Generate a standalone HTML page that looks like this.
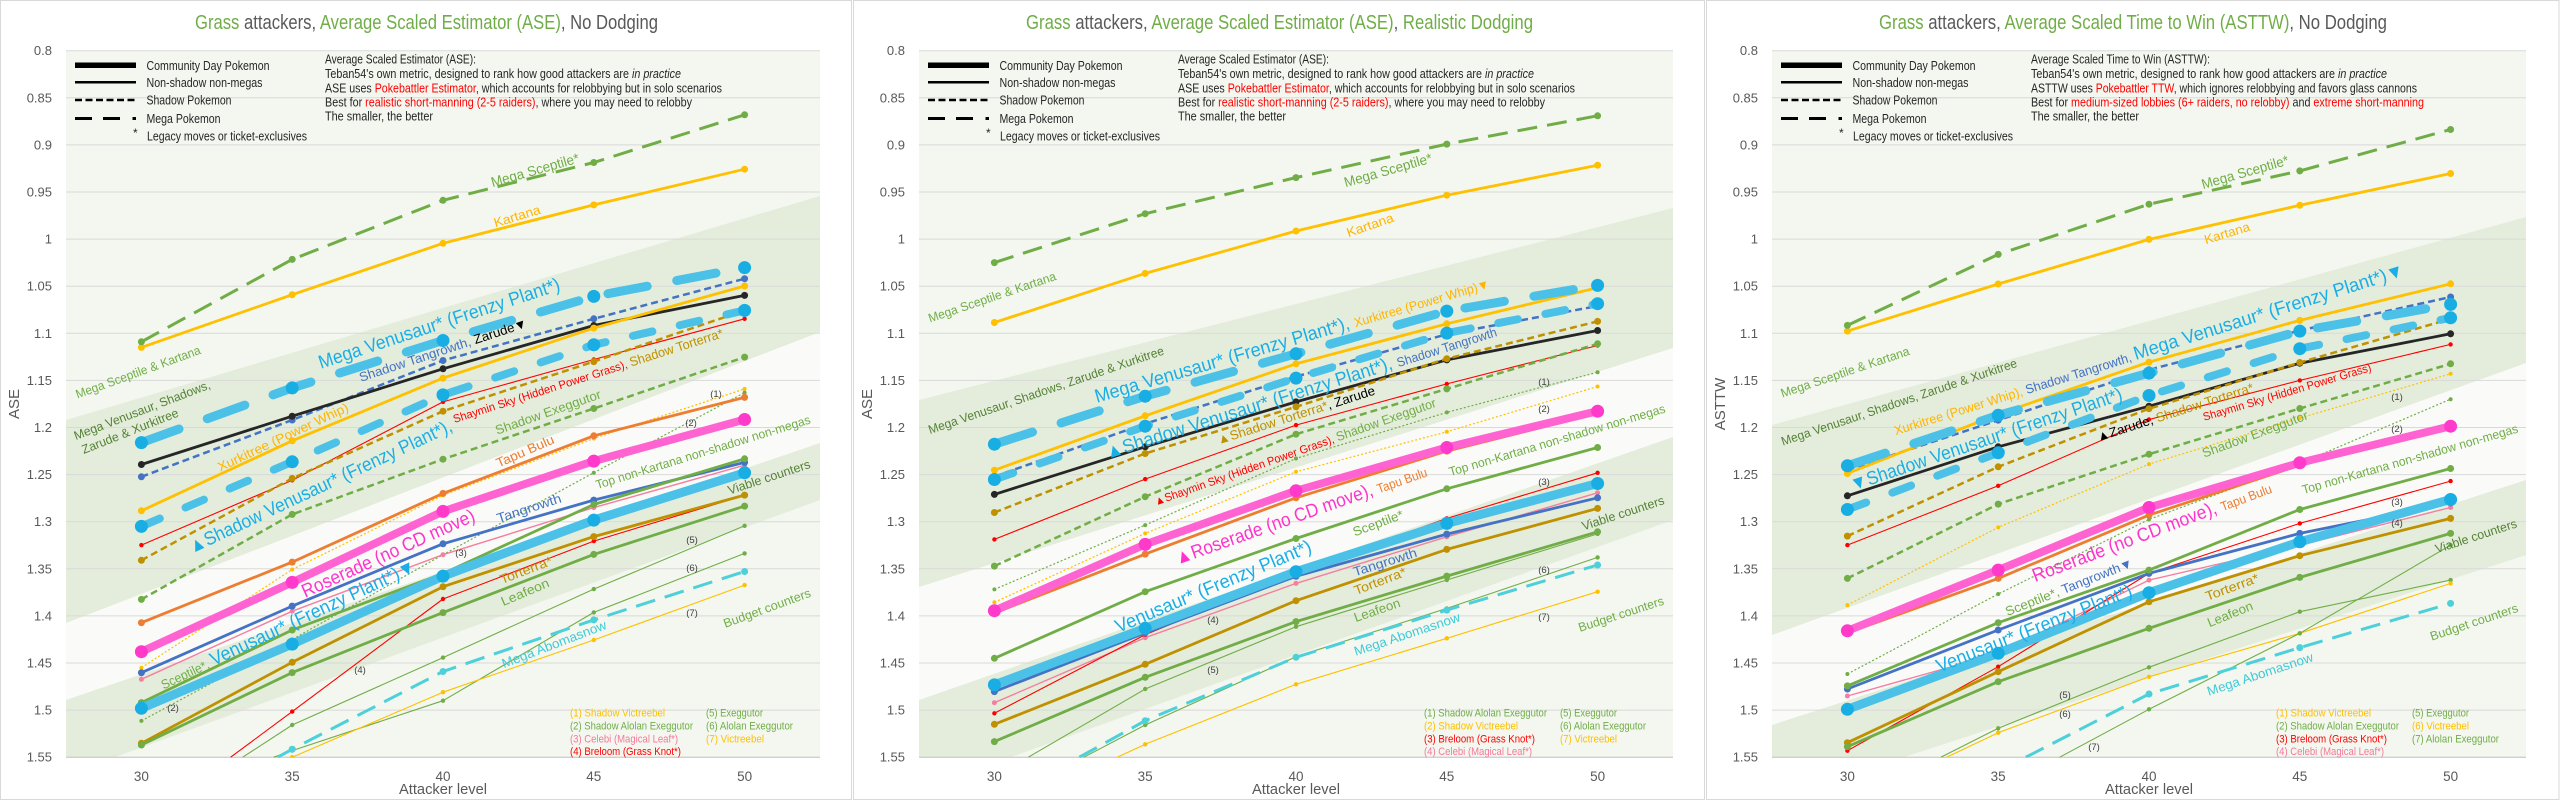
<!DOCTYPE html>
<html><head><meta charset="utf-8">
<style>
html,body{margin:0;padding:0;background:#fff;width:2560px;height:800px;overflow:hidden;}
svg{display:block;font-family:"Liberation Sans",sans-serif;}
.l{text-anchor:middle;}
.tk{font-size:13px;fill:#595959;}
.xt{font-size:13.5px;fill:#595959;text-anchor:middle;}
.nm{font-size:9.5px;fill:#404040;text-anchor:middle;}
.lg{font-size:13px;fill:#262626;}
.bl{font-size:11px;}
</style></head>
<body>
<svg width="2560" height="800" viewBox="0 0 2560 800" xmlns="http://www.w3.org/2000/svg">
<defs>
<clipPath id="pc"><rect x="66" y="50.2" width="754" height="707.6"/></clipPath>
</defs>
<rect width="2560" height="800" fill="#fff"/>

<!-- ================= PANEL 1 ================= -->
<g transform="translate(0,0)">
<rect x="0.5" y="0.5" width="851" height="799" fill="#fff" stroke="#D9D9D9"/>
<rect x="66" y="50.7" width="754" height="706.5" fill="#F3F7EF"/>
<polygon points="66,623 820,332 820,443 66,700" fill="#FAFBF8"/>
<polygon points="66,420 820,196 820,332 66,623" fill="#E4EDDB"/>
<polygon points="66,700 820,443 820,500 114.8,757.2 66,757.2" fill="#E4EDDB"/>
<path d="M66 50.7H820M66 97.8H820M66 144.9H820M66 192H820M66 239.1H820M66 286.2H820M66 333.3H820M66 380.4H820M66 427.5H820M66 474.6H820M66 521.7H820M66 568.8H820M66 615.9H820M66 663H820M66 710.1H820" stroke="#D9D9D9" stroke-width="1" fill="none"/>
<path d="M66 757.2H820" stroke="#BFBFBF" stroke-width="1"/>
<g class="tk" text-anchor="end">
<text x="52" y="55.2">0.8</text><text x="52" y="102.3">0.85</text><text x="52" y="149.4">0.9</text><text x="52" y="196.5">0.95</text><text x="52" y="243.6">1</text><text x="52" y="290.7">1.05</text><text x="52" y="337.8">1.1</text><text x="52" y="384.9">1.15</text><text x="52" y="432">1.2</text><text x="52" y="479.1">1.25</text><text x="52" y="526.2">1.3</text><text x="52" y="573.3">1.35</text><text x="52" y="620.4">1.4</text><text x="52" y="667.5">1.45</text><text x="52" y="714.6">1.5</text><text x="52" y="761.7">1.55</text>
</g>
<g class="xt"><text x="141.4" y="781">30</text><text x="292.2" y="781">35</text><text x="443" y="781">40</text><text x="593.8" y="781">45</text><text x="744.6" y="781">50</text></g>
<text x="443" y="794" text-anchor="middle" font-size="15" fill="#595959" textLength="88" lengthAdjust="spacingAndGlyphs">Attacker level</text>
<text transform="translate(19,404) rotate(-90)" text-anchor="middle" font-size="15" fill="#595959">ASE</text>
<text x="426.5" y="29" text-anchor="middle" font-size="20" textLength="463" lengthAdjust="spacingAndGlyphs"><tspan fill="#70AD47">Grass</tspan><tspan fill="#595959"> attackers, </tspan><tspan fill="#70AD47">Average Scaled Estimator (ASE)</tspan><tspan fill="#595959">, No Dodging</tspan></text>
<g class="lg">
<line x1="75" y1="65.3" x2="136" y2="65.3" stroke="#000" stroke-width="5.5"/>
<text x="146.5" y="70" textLength="123" lengthAdjust="spacingAndGlyphs">Community Day Pokemon</text>
<line x1="75" y1="82.3" x2="136" y2="82.3" stroke="#000" stroke-width="2.5"/>
<text x="146.5" y="87" textLength="116" lengthAdjust="spacingAndGlyphs">Non-shadow non-megas</text>
<line x1="75" y1="100" x2="136" y2="100" stroke="#000" stroke-width="2.5" stroke-dasharray="7 3.5"/>
<text x="146.5" y="104.5" textLength="85" lengthAdjust="spacingAndGlyphs">Shadow Pokemon</text>
<path d="M75 118.5H92M103 118.5H120M132.5 118.5H136" stroke="#000" stroke-width="3"/>
<text x="146.5" y="123" textLength="74" lengthAdjust="spacingAndGlyphs">Mega Pokemon</text>
<text x="133" y="137" font-size="12">*</text>
<text x="147" y="140.5" textLength="160" lengthAdjust="spacingAndGlyphs">Legacy moves or ticket-exclusives</text>
</g>
<g font-size="12.5" fill="#262626">
<text x="325" y="63.5" textLength="151" lengthAdjust="spacingAndGlyphs">Average Scaled Estimator (ASE):</text>
<text x="325" y="78" textLength="356" lengthAdjust="spacingAndGlyphs">Teban54's own metric, designed to rank how good attackers are <tspan font-style="italic">in practice</tspan></text>
<text x="325" y="92.3" textLength="397" lengthAdjust="spacingAndGlyphs">ASE uses <tspan fill="#FF0000">Pokebattler Estimator</tspan>, which accounts for relobbying but in solo scenarios</text>
<text x="325" y="106.3" textLength="367" lengthAdjust="spacingAndGlyphs">Best for <tspan fill="#FF0000">realistic short-manning (2-5 raiders)</tspan>, where you may need to relobby</text>
<text x="325" y="120.5" textLength="108" lengthAdjust="spacingAndGlyphs">The smaller, the better</text>
</g>
<g id="s1" clip-path="url(#pc)"></g>
<g class="bl">
<text x="570" y="716.7" fill="#FFC000" textLength="95" lengthAdjust="spacingAndGlyphs">(1) Shadow Victreebel</text>
<text x="570" y="729.7" fill="#70AD47" textLength="123" lengthAdjust="spacingAndGlyphs">(2) Shadow Alolan Exeggutor</text>
<text x="570" y="742.3" fill="#F4799B" textLength="108" lengthAdjust="spacingAndGlyphs">(3) Celebi (Magical Leaf*)</text>
<text x="570" y="755" fill="#FF0000" textLength="111" lengthAdjust="spacingAndGlyphs">(4) Breloom (Grass Knot*)</text>
<text x="706" y="716.7" fill="#70AD47" textLength="57" lengthAdjust="spacingAndGlyphs">(5) Exeggutor</text>
<text x="706" y="729.7" fill="#70AD47" textLength="87" lengthAdjust="spacingAndGlyphs">(6) Alolan Exeggutor</text>
<text x="706" y="742.3" fill="#FFC000" textLength="58" lengthAdjust="spacingAndGlyphs">(7) Victreebel</text>
</g>
<g class="l">
<text transform="translate(535,170) rotate(-15.9)" dy="0.35em" font-size="14" fill="#70AD47" textLength="91" lengthAdjust="spacingAndGlyphs">Mega Sceptile*</text>
<text transform="translate(517,216) rotate(-17)" dy="0.35em" font-size="13" fill="#FFB400" textLength="48" lengthAdjust="spacingAndGlyphs">Kartana</text>
<text transform="translate(138,372) rotate(-20)" dy="0.35em" font-size="12.5" fill="#70AD47" textLength="132" lengthAdjust="spacingAndGlyphs">Mega Sceptile &amp; Kartana</text>
<text transform="translate(142,410) rotate(-21)" dy="0.35em" font-size="12.5" fill="#548235" textLength="145" lengthAdjust="spacingAndGlyphs">Mega Venusaur, Shadows,</text>
<text transform="translate(130,431) rotate(-21.6)" dy="0.35em" font-size="12.5" fill="#548235" textLength="103" lengthAdjust="spacingAndGlyphs">Zarude &amp; Xurkitree</text>
<text transform="translate(439,323) rotate(-18.2)" dy="0.35em" font-size="19" fill="#1AAEE6" textLength="253" lengthAdjust="spacingAndGlyphs">Mega Venusaur* (Frenzy Plant*)</text>
<text transform="translate(443,350) rotate(-18.2)" dy="0.35em" font-size="13" textLength="176" lengthAdjust="spacingAndGlyphs"><tspan fill="#4472C4">Shadow Tangrowth, </tspan><tspan fill="#000">Zarude▼</tspan></text>
<text transform="translate(283,437) rotate(-25.3)" dy="0.35em" font-size="13" fill="#FFB400" textLength="143" lengthAdjust="spacingAndGlyphs">Xurkitree (Power Whip)</text>
<text transform="translate(320,486) rotate(-25.2)" dy="0.35em" font-size="19" fill="#1AAEE6" textLength="289" lengthAdjust="spacingAndGlyphs">▲Shadow Venusaur* (Frenzy Plant*),</text>
<text transform="translate(588,376) rotate(-17.7)" dy="0.35em" font-size="12" textLength="283" lengthAdjust="spacingAndGlyphs"><tspan fill="#FF0000" font-size="11.5">Shaymin Sky (Hidden Power Grass), </tspan><tspan fill="#BF9000" font-size="13">Shadow Torterra*</tspan></text>
<text transform="translate(548,412) rotate(-19.4)" dy="0.35em" font-size="13" fill="#70AD47" textLength="111" lengthAdjust="spacingAndGlyphs">Shadow Exeggutor</text>
<text transform="translate(525,451) rotate(-23.7)" dy="0.35em" font-size="13" fill="#ED7D31" textLength="62" lengthAdjust="spacingAndGlyphs">Tapu Bulu</text>
<text transform="translate(703,452) rotate(-17.1)" dy="0.35em" font-size="12.5" fill="#70AD47" textLength="224" lengthAdjust="spacingAndGlyphs">Top non-Kartana non-shadow non-megas</text>
<text transform="translate(388,553) rotate(-24.4)" dy="0.35em" font-size="19" fill="#FF33CC" textLength="188" lengthAdjust="spacingAndGlyphs">Roserade (no CD move)</text>
<text transform="translate(529,508) rotate(-18)" dy="0.35em" font-size="13" fill="#4472C4" textLength="67" lengthAdjust="spacingAndGlyphs">Tangrowth</text>
<text transform="translate(769,477) rotate(-18.2)" dy="0.35em" font-size="12.5" fill="#548235" textLength="86" lengthAdjust="spacingAndGlyphs">Viable counters</text>
<text transform="translate(526,570) rotate(-21)" dy="0.35em" font-size="13" fill="#BF9000" textLength="55" lengthAdjust="spacingAndGlyphs">Torterra*</text>
<text transform="translate(525,592) rotate(-23)" dy="0.35em" font-size="13" fill="#70AD47" textLength="51" lengthAdjust="spacingAndGlyphs">Leafeon</text>
<text transform="translate(288,625) rotate(-25.1)" dy="0.35em" font-size="16" textLength="280" lengthAdjust="spacingAndGlyphs"><tspan fill="#70AD47" font-size="13">Sceptile*, </tspan><tspan fill="#1AAEE6" font-size="19">Venusaur* (Frenzy Plant*)▼</tspan></text>
<text transform="translate(554,644) rotate(-21)" dy="0.35em" font-size="13" fill="#3FCAD8" textLength="111" lengthAdjust="spacingAndGlyphs">Mega Abomasnow</text>
<text transform="translate(767,608) rotate(-20)" dy="0.35em" font-size="12.5" fill="#70AD47" textLength="92" lengthAdjust="spacingAndGlyphs">Budget counters</text>
</g>
<g class="nm">
<text x="716" y="397">(1)</text><text x="691" y="426">(2)</text><text x="461" y="556">(3)</text><text x="173" y="711">(2)</text><text x="360" y="673">(4)</text><text x="692" y="543">(5)</text><text x="692" y="571">(6)</text><text x="692" y="616">(7)</text>
</g>
</g>

<!-- ================= PANEL 2 ================= -->
<g transform="translate(853,0)">
<rect x="0.5" y="0.5" width="851" height="799" fill="#fff" stroke="#D9D9D9"/>
<rect x="66" y="50.7" width="754" height="706.5" fill="#F3F7EF"/>
<polygon points="66,587 820,348 820,437 66,700" fill="#FAFBF8"/>
<polygon points="66,400 820,208 820,348 66,587" fill="#E4EDDB"/>
<polygon points="66,700 820,437 820,520 157.6,757.2 66,757.2" fill="#E4EDDB"/>
<path d="M66 50.7H820M66 97.8H820M66 144.9H820M66 192H820M66 239.1H820M66 286.2H820M66 333.3H820M66 380.4H820M66 427.5H820M66 474.6H820M66 521.7H820M66 568.8H820M66 615.9H820M66 663H820M66 710.1H820" stroke="#D9D9D9" stroke-width="1" fill="none"/>
<path d="M66 757.2H820" stroke="#BFBFBF" stroke-width="1"/>
<g class="tk" text-anchor="end">
<text x="52" y="55.2">0.8</text><text x="52" y="102.3">0.85</text><text x="52" y="149.4">0.9</text><text x="52" y="196.5">0.95</text><text x="52" y="243.6">1</text><text x="52" y="290.7">1.05</text><text x="52" y="337.8">1.1</text><text x="52" y="384.9">1.15</text><text x="52" y="432">1.2</text><text x="52" y="479.1">1.25</text><text x="52" y="526.2">1.3</text><text x="52" y="573.3">1.35</text><text x="52" y="620.4">1.4</text><text x="52" y="667.5">1.45</text><text x="52" y="714.6">1.5</text><text x="52" y="761.7">1.55</text>
</g>
<g class="xt"><text x="141.4" y="781">30</text><text x="292.2" y="781">35</text><text x="443" y="781">40</text><text x="593.8" y="781">45</text><text x="744.6" y="781">50</text></g>
<text x="443" y="794" text-anchor="middle" font-size="15" fill="#595959" textLength="88" lengthAdjust="spacingAndGlyphs">Attacker level</text>
<text transform="translate(19,404) rotate(-90)" text-anchor="middle" font-size="15" fill="#595959">ASE</text>
<text x="426.5" y="29" text-anchor="middle" font-size="20" textLength="507" lengthAdjust="spacingAndGlyphs"><tspan fill="#70AD47">Grass</tspan><tspan fill="#595959"> attackers, </tspan><tspan fill="#70AD47">Average Scaled Estimator (ASE)</tspan><tspan fill="#595959">, </tspan><tspan fill="#70AD47">Realistic Dodging</tspan></text>
<g class="lg">
<line x1="75" y1="65.3" x2="136" y2="65.3" stroke="#000" stroke-width="5.5"/>
<text x="146.5" y="70" textLength="123" lengthAdjust="spacingAndGlyphs">Community Day Pokemon</text>
<line x1="75" y1="82.3" x2="136" y2="82.3" stroke="#000" stroke-width="2.5"/>
<text x="146.5" y="87" textLength="116" lengthAdjust="spacingAndGlyphs">Non-shadow non-megas</text>
<line x1="75" y1="100" x2="136" y2="100" stroke="#000" stroke-width="2.5" stroke-dasharray="7 3.5"/>
<text x="146.5" y="104.5" textLength="85" lengthAdjust="spacingAndGlyphs">Shadow Pokemon</text>
<path d="M75 118.5H92M103 118.5H120M132.5 118.5H136" stroke="#000" stroke-width="3"/>
<text x="146.5" y="123" textLength="74" lengthAdjust="spacingAndGlyphs">Mega Pokemon</text>
<text x="133" y="137" font-size="12">*</text>
<text x="147" y="140.5" textLength="160" lengthAdjust="spacingAndGlyphs">Legacy moves or ticket-exclusives</text>
</g>
<g font-size="12.5" fill="#262626">
<text x="325" y="63.5" textLength="151" lengthAdjust="spacingAndGlyphs">Average Scaled Estimator (ASE):</text>
<text x="325" y="78" textLength="356" lengthAdjust="spacingAndGlyphs">Teban54's own metric, designed to rank how good attackers are <tspan font-style="italic">in practice</tspan></text>
<text x="325" y="92.3" textLength="397" lengthAdjust="spacingAndGlyphs">ASE uses <tspan fill="#FF0000">Pokebattler Estimator</tspan>, which accounts for relobbying but in solo scenarios</text>
<text x="325" y="106.3" textLength="367" lengthAdjust="spacingAndGlyphs">Best for <tspan fill="#FF0000">realistic short-manning (2-5 raiders)</tspan>, where you may need to relobby</text>
<text x="325" y="120.5" textLength="108" lengthAdjust="spacingAndGlyphs">The smaller, the better</text>
</g>
<g id="s2" clip-path="url(#pc)"></g>
<g class="bl">
<text x="571" y="716.7" fill="#70AD47" textLength="123" lengthAdjust="spacingAndGlyphs">(1) Shadow Alolan Exeggutor</text>
<text x="571" y="729.7" fill="#FFC000" textLength="94" lengthAdjust="spacingAndGlyphs">(2) Shadow Victreebel</text>
<text x="571" y="742.3" fill="#FF0000" textLength="111" lengthAdjust="spacingAndGlyphs">(3) Breloom (Grass Knot*)</text>
<text x="571" y="755" fill="#F4799B" textLength="108" lengthAdjust="spacingAndGlyphs">(4) Celebi (Magical Leaf*)</text>
<text x="707" y="716.7" fill="#70AD47" textLength="57" lengthAdjust="spacingAndGlyphs">(5) Exeggutor</text>
<text x="707" y="729.7" fill="#70AD47" textLength="86" lengthAdjust="spacingAndGlyphs">(6) Alolan Exeggutor</text>
<text x="707" y="742.3" fill="#FFC000" textLength="57" lengthAdjust="spacingAndGlyphs">(7) Victreebel</text>
</g>
<g class="l">
<text transform="translate(535,170) rotate(-16)" dy="0.35em" font-size="14" fill="#70AD47" textLength="91" lengthAdjust="spacingAndGlyphs">Mega Sceptile*</text>
<text transform="translate(517,225) rotate(-19)" dy="0.35em" font-size="13" fill="#FFB400" textLength="49" lengthAdjust="spacingAndGlyphs">Kartana</text>
<text transform="translate(139,297) rotate(-18.7)" dy="0.35em" font-size="12.5" fill="#70AD47" textLength="134" lengthAdjust="spacingAndGlyphs">Mega Sceptile &amp; Kartana</text>
<text transform="translate(193,390) rotate(-18.8)" dy="0.35em" font-size="12.5" fill="#548235" textLength="248" lengthAdjust="spacingAndGlyphs">Mega Venusaur, Shadows, Zarude &amp; Xurkitree</text>
<text transform="translate(439,340) rotate(-16.3)" dy="0.35em" font-size="16" textLength="410" lengthAdjust="spacingAndGlyphs"><tspan fill="#1AAEE6" font-size="19">Mega Venusaur* (Frenzy Plant*), </tspan><tspan fill="#FFB400" font-size="13">Xurkitree (Power Whip)▼</tspan></text>
<text transform="translate(448,392) rotate(-17.5)" dy="0.35em" font-size="16" textLength="409" lengthAdjust="spacingAndGlyphs"><tspan fill="#1AAEE6" font-size="19">▲Shadow Venusaur* (Frenzy Plant*), </tspan><tspan fill="#4472C4" font-size="13">Shadow Tangrowth</tspan></text>
<text transform="translate(443,415) rotate(-17.7)" dy="0.35em" font-size="13" textLength="165" lengthAdjust="spacingAndGlyphs"><tspan fill="#BF9000">▲Shadow Torterra*</tspan><tspan fill="#000">, Zarude</tspan></text>
<text transform="translate(442,452) rotate(-19.4)" dy="0.35em" font-size="12" textLength="298" lengthAdjust="spacingAndGlyphs"><tspan fill="#FF0000" font-size="11.5">▲Shaymin Sky (Hidden Power Grass), </tspan><tspan fill="#70AD47" font-size="13">Shadow Exeggutor</tspan></text>
<text transform="translate(448,515) rotate(-19.5)" dy="0.35em" font-size="16" textLength="266" lengthAdjust="spacingAndGlyphs"><tspan fill="#FF33CC" font-size="19">▲Roserade (no CD move), </tspan><tspan fill="#ED7D31" font-size="13">Tapu Bulu</tspan></text>
<text transform="translate(704,440) rotate(-16.5)" dy="0.35em" font-size="12.5" fill="#70AD47" textLength="225" lengthAdjust="spacingAndGlyphs">Top non-Kartana non-shadow non-megas</text>
<text transform="translate(525,523) rotate(-20.5)" dy="0.35em" font-size="13" fill="#70AD47" textLength="53" lengthAdjust="spacingAndGlyphs">Sceptile*</text>
<text transform="translate(770,513) rotate(-18)" dy="0.35em" font-size="12.5" fill="#548235" textLength="86" lengthAdjust="spacingAndGlyphs">Viable counters</text>
<text transform="translate(360,586) rotate(-22.8)" dy="0.35em" font-size="19" fill="#1AAEE6" textLength="211" lengthAdjust="spacingAndGlyphs">Venusaur* (Frenzy Plant*)</text>
<text transform="translate(532,562) rotate(-17.6)" dy="0.35em" font-size="13" fill="#4472C4" textLength="66" lengthAdjust="spacingAndGlyphs">Tangrowth</text>
<text transform="translate(527,581) rotate(-21)" dy="0.35em" font-size="13" fill="#BF9000" textLength="55" lengthAdjust="spacingAndGlyphs">Torterra*</text>
<text transform="translate(524,610) rotate(-19)" dy="0.35em" font-size="13" fill="#70AD47" textLength="48" lengthAdjust="spacingAndGlyphs">Leafeon</text>
<text transform="translate(554,634) rotate(-18.4)" dy="0.35em" font-size="13" fill="#3FCAD8" textLength="111" lengthAdjust="spacingAndGlyphs">Mega Abomasnow</text>
<text transform="translate(768,614) rotate(-18)" dy="0.35em" font-size="12.5" fill="#70AD47" textLength="89" lengthAdjust="spacingAndGlyphs">Budget counters</text>
</g>
<g class="nm">
<text x="691" y="385">(1)</text><text x="691" y="412">(2)</text><text x="691" y="485">(3)</text><text x="691" y="573">(6)</text><text x="691" y="620">(7)</text><text x="360" y="623">(4)</text><text x="360" y="673">(5)</text>
</g>
</g>

<!-- ================= PANEL 3 ================= -->
<g transform="translate(1706,0)">
<rect x="0.5" y="0.5" width="852.5" height="799" fill="#fff" stroke="#D9D9D9"/>
<rect x="66" y="50.7" width="754" height="706.5" fill="#F3F7EF"/>
<polygon points="66,635 820,363 820,480 66,725" fill="#FAFBF8"/>
<polygon points="66,425 820,217 820,363 66,635" fill="#E4EDDB"/>
<polygon points="66,725 820,480 820,555 197.7,757.2 66,757.2" fill="#E4EDDB"/>
<path d="M66 50.7H820M66 97.8H820M66 144.9H820M66 192H820M66 239.1H820M66 286.2H820M66 333.3H820M66 380.4H820M66 427.5H820M66 474.6H820M66 521.7H820M66 568.8H820M66 615.9H820M66 663H820M66 710.1H820" stroke="#D9D9D9" stroke-width="1" fill="none"/>
<path d="M66 757.2H820" stroke="#BFBFBF" stroke-width="1"/>
<g class="tk" text-anchor="end">
<text x="52" y="55.2">0.8</text><text x="52" y="102.3">0.85</text><text x="52" y="149.4">0.9</text><text x="52" y="196.5">0.95</text><text x="52" y="243.6">1</text><text x="52" y="290.7">1.05</text><text x="52" y="337.8">1.1</text><text x="52" y="384.9">1.15</text><text x="52" y="432">1.2</text><text x="52" y="479.1">1.25</text><text x="52" y="526.2">1.3</text><text x="52" y="573.3">1.35</text><text x="52" y="620.4">1.4</text><text x="52" y="667.5">1.45</text><text x="52" y="714.6">1.5</text><text x="52" y="761.7">1.55</text>
</g>
<g class="xt"><text x="141.4" y="781">30</text><text x="292.2" y="781">35</text><text x="443" y="781">40</text><text x="593.8" y="781">45</text><text x="744.6" y="781">50</text></g>
<text x="443" y="794" text-anchor="middle" font-size="15" fill="#595959" textLength="88" lengthAdjust="spacingAndGlyphs">Attacker level</text>
<text transform="translate(19,404) rotate(-90)" text-anchor="middle" font-size="15" fill="#595959">ASTTW</text>
<text x="427" y="29" text-anchor="middle" font-size="20" textLength="508" lengthAdjust="spacingAndGlyphs"><tspan fill="#70AD47">Grass</tspan><tspan fill="#595959"> attackers, </tspan><tspan fill="#70AD47">Average Scaled Time to Win (ASTTW)</tspan><tspan fill="#595959">, No Dodging</tspan></text>
<g class="lg">
<line x1="75" y1="65.3" x2="136" y2="65.3" stroke="#000" stroke-width="5.5"/>
<text x="146.5" y="70" textLength="123" lengthAdjust="spacingAndGlyphs">Community Day Pokemon</text>
<line x1="75" y1="82.3" x2="136" y2="82.3" stroke="#000" stroke-width="2.5"/>
<text x="146.5" y="87" textLength="116" lengthAdjust="spacingAndGlyphs">Non-shadow non-megas</text>
<line x1="75" y1="100" x2="136" y2="100" stroke="#000" stroke-width="2.5" stroke-dasharray="7 3.5"/>
<text x="146.5" y="104.5" textLength="85" lengthAdjust="spacingAndGlyphs">Shadow Pokemon</text>
<path d="M75 118.5H92M103 118.5H120M132.5 118.5H136" stroke="#000" stroke-width="3"/>
<text x="146.5" y="123" textLength="74" lengthAdjust="spacingAndGlyphs">Mega Pokemon</text>
<text x="133" y="137" font-size="12">*</text>
<text x="147" y="140.5" textLength="160" lengthAdjust="spacingAndGlyphs">Legacy moves or ticket-exclusives</text>
</g>
<g font-size="12.5" fill="#262626">
<text x="325" y="63.5" textLength="179" lengthAdjust="spacingAndGlyphs">Average Scaled Time to Win (ASTTW):</text>
<text x="325" y="78" textLength="356" lengthAdjust="spacingAndGlyphs">Teban54's own metric, designed to rank how good attackers are <tspan font-style="italic">in practice</tspan></text>
<text x="325" y="92.3" textLength="386" lengthAdjust="spacingAndGlyphs">ASTTW uses <tspan fill="#FF0000">Pokebattler TTW</tspan>, which ignores relobbying and favors glass cannons</text>
<text x="325" y="106.3" textLength="393" lengthAdjust="spacingAndGlyphs">Best for <tspan fill="#FF0000">medium-sized lobbies (6+ raiders, no relobby)</tspan> and <tspan fill="#FF0000">extreme short-manning</tspan></text>
<text x="325" y="120.5" textLength="108" lengthAdjust="spacingAndGlyphs">The smaller, the better</text>
</g>
<g id="s3" clip-path="url(#pc)"></g>
<g class="bl">
<text x="570" y="716.7" fill="#FFC000" textLength="95" lengthAdjust="spacingAndGlyphs">(1) Shadow Victreebel</text>
<text x="570" y="729.7" fill="#70AD47" textLength="123" lengthAdjust="spacingAndGlyphs">(2) Shadow Alolan Exeggutor</text>
<text x="570" y="742.3" fill="#FF0000" textLength="111" lengthAdjust="spacingAndGlyphs">(3) Breloom (Grass Knot*)</text>
<text x="570" y="755" fill="#F4799B" textLength="108" lengthAdjust="spacingAndGlyphs">(4) Celebi (Magical Leaf*)</text>
<text x="706" y="716.7" fill="#70AD47" textLength="57" lengthAdjust="spacingAndGlyphs">(5) Exeggutor</text>
<text x="706" y="729.7" fill="#FFC000" textLength="57" lengthAdjust="spacingAndGlyphs">(6) Victreebel</text>
<text x="706" y="742.3" fill="#70AD47" textLength="87" lengthAdjust="spacingAndGlyphs">(7) Alolan Exeggutor</text>
</g>
<g class="l">
<text transform="translate(539,172) rotate(-16)" dy="0.35em" font-size="14" fill="#70AD47" textLength="90" lengthAdjust="spacingAndGlyphs">Mega Sceptile*</text>
<text transform="translate(521,233) rotate(-17)" dy="0.35em" font-size="13" fill="#FFB400" textLength="47" lengthAdjust="spacingAndGlyphs">Kartana</text>
<text transform="translate(139,372) rotate(-18.6)" dy="0.35em" font-size="12.5" fill="#70AD47" textLength="135" lengthAdjust="spacingAndGlyphs">Mega Sceptile &amp; Kartana</text>
<text transform="translate(193,402) rotate(-18.6)" dy="0.35em" font-size="12.5" fill="#548235" textLength="248" lengthAdjust="spacingAndGlyphs">Mega Venusaur, Shadows, Zarude &amp; Xurkitree</text>
<text transform="translate(443,350) rotate(-17.4)" dy="0.35em" font-size="16" textLength="534" lengthAdjust="spacingAndGlyphs"><tspan fill="#FFB400" font-size="13">Xurkitree (Power Whip), </tspan><tspan fill="#4472C4" font-size="13">Shadow Tangrowth, </tspan><tspan fill="#1AAEE6" font-size="19">Mega Venusaur* (Frenzy Plant*)▼</tspan></text>
<text transform="translate(280,439) rotate(-18.7)" dy="0.35em" font-size="19" fill="#1AAEE6" textLength="286" lengthAdjust="spacingAndGlyphs">▼Shadow Venusaur* (Frenzy Plant*)</text>
<text transform="translate(469,412) rotate(-17.8)" dy="0.35em" font-size="13" textLength="164" lengthAdjust="spacingAndGlyphs"><tspan fill="#000">▲Zarude, </tspan><tspan fill="#BF9000">Shadow Torterra*</tspan></text>
<text transform="translate(581,392) rotate(-16.6)" dy="0.35em" font-size="11.5" fill="#FF0000" textLength="175" lengthAdjust="spacingAndGlyphs">Shaymin Sky (Hidden Power Grass)</text>
<text transform="translate(549,434) rotate(-20.4)" dy="0.35em" font-size="13" fill="#70AD47" textLength="112" lengthAdjust="spacingAndGlyphs">Shadow Exeggutor</text>
<text transform="translate(446,532) rotate(-20.7)" dy="0.35em" font-size="16" textLength="254" lengthAdjust="spacingAndGlyphs"><tspan fill="#FF33CC" font-size="19">Roserade (no CD move), </tspan><tspan fill="#ED7D31" font-size="13">Tapu Bulu</tspan></text>
<text transform="translate(704,459) rotate(-16)" dy="0.35em" font-size="12.5" fill="#70AD47" textLength="224" lengthAdjust="spacingAndGlyphs">Top non-Kartana non-shadow non-megas</text>
<text transform="translate(363,587) rotate(-21.5)" dy="0.35em" font-size="13" textLength="136" lengthAdjust="spacingAndGlyphs"><tspan fill="#70AD47">Sceptile*, </tspan><tspan fill="#4472C4">Tangrowth▼</tspan></text>
<text transform="translate(328,628) rotate(-21.6)" dy="0.35em" font-size="19" fill="#1AAEE6" textLength="209" lengthAdjust="spacingAndGlyphs">Venusaur* (Frenzy Plant*)</text>
<text transform="translate(770,536) rotate(-18)" dy="0.35em" font-size="12.5" fill="#548235" textLength="85" lengthAdjust="spacingAndGlyphs">Viable counters</text>
<text transform="translate(526,587) rotate(-20)" dy="0.35em" font-size="13" fill="#BF9000" textLength="56" lengthAdjust="spacingAndGlyphs">Torterra*</text>
<text transform="translate(524,614) rotate(-22)" dy="0.35em" font-size="13" fill="#70AD47" textLength="48" lengthAdjust="spacingAndGlyphs">Leafeon</text>
<text transform="translate(554,674) rotate(-18.4)" dy="0.35em" font-size="13" fill="#3FCAD8" textLength="111" lengthAdjust="spacingAndGlyphs">Mega Abomasnow</text>
<text transform="translate(768,622) rotate(-18.5)" dy="0.35em" font-size="12.5" fill="#70AD47" textLength="92" lengthAdjust="spacingAndGlyphs">Budget counters</text>
</g>
<g class="nm">
<text x="691" y="400">(1)</text><text x="691" y="432">(2)</text><text x="691" y="505">(3)</text><text x="691" y="526">(4)</text><text x="359" y="698">(5)</text><text x="359" y="717">(6)</text><text x="388" y="750">(7)</text>
</g>
</g>
</svg>

<script>
(function(){
var B=757.2;
var X=function(l){return 66+(l-27.5)*30.16;};
var Y=function(v){return 50.7+(v-0.8)*942;};
var C={g:'#70AD47',y:'#FFC000',c:'#4CC1E8',m:'#FF63D2',k:'#262626',b:'#4472C4',o:'#BF9000',r:'#FF0000',or:'#ED7D31',p:'#F47FA0',t:'#4DD0DA'};
var D={c:'#18AEE3',m:'#FF3ACB'};
var ST={
 mega:{w:3,d:'20 10',r:3.5},
 megaBig:{w:9,d:'40 30',r:6.5,cap:'round'},
 shBig:{w:8,d:'20 28',r:6.5,cap:'round'},
 cd:{w:9,r:6.5},
 cdm:{w:8,r:6.5},
 n:{w:2.8,r:3.5},
 sh:{w:2.5,d:'7 4',r:3.5},
 th:{w:1.1,r:2.2},
 thp:{w:1.4,r:2.5},
 dt:{w:1.2,d:'2 2',r:2},
 ab:{w:3,d:'20 10',r:3.5}
};
var P1=[
['dt','y',[1.455,1.3507,1.272,1.2117,1.159]],
['dt','g',[1.5115,1.425,1.335,1.248,1.163]],
['thp','p',[1.4673,1.395,1.335,1.285,1.24]],
['th','r',[1.62,1.5016,1.3821,1.3206,1.272]],
['th','g',[1.62,1.5158,1.4443,1.3715,1.3043]],
['th','g',[1.60,1.543,1.49,1.3963,1.3337]],
['th','y',[1.62,1.55,1.481,1.4256,1.3673]],
['th','r',[1.3248,1.256,1.1728,1.1278,1.0846]],
['n','y',[1.115,1.059,1.0045,0.9637,0.9258]],
['mega','g',[1.109,1.0215,0.9588,0.9187,0.868]],
['sh','b',[1.2523,1.192,1.1289,1.0846,1.042]],
['n','k',[1.2393,1.188,1.1377,1.0917,1.0598]],
['n','y',[1.2884,1.2141,1.1476,1.0945,1.0498]],
['sh','o',[1.341,1.254,1.1827,1.13,1.0757]],
['sh','g',[1.3825,1.2923,1.2336,1.1798,1.1253]],
['n','or',[1.4072,1.3429,1.27,1.2088,1.168]],
['n','b',[1.4603,1.3896,1.3235,1.2771,1.237]],
['n','g',[1.492,1.415,1.355,1.2817,1.2332]],
['n','o',[1.5352,1.4493,1.369,1.3158,1.2718]],
['n','g',[1.537,1.4602,1.3965,1.3347,1.2834]],
['ab','t',[1.63,1.5415,1.459,1.4042,1.3529]],
['megaBig','c',[1.216,1.158,1.1076,1.0608,1.0303]],
['shBig','c',[1.305,1.2364,1.1654,1.1122,1.0757]],
['cdm','m',[1.438,1.3644,1.2891,1.2357,1.1915]],
['cd','c',[1.4981,1.4299,1.3577,1.2983,1.2481]]
];
var P2=[
['dt','g',[1.3719,1.3036,1.2329,1.184,1.1413]],
['dt','y',[1.3856,1.3124,1.247,1.2046,1.1565]],
['thp','p',[1.4921,1.4231,1.3655,1.316,1.2693]],
['th','r',[1.5034,1.42,1.3538,1.2965,1.2481]],
['th','g',[1.571,1.4776,1.4115,1.3619,1.313]],
['th','g',[1.60,1.5158,1.4433,1.392,1.3379]],
['th','y',[1.61,1.5363,1.4726,1.4238,1.3743]],
['th','r',[1.3188,1.2548,1.1975,1.1537,1.1129]],
['n','y',[1.0885,1.0364,0.9914,0.9534,0.9215]],
['mega','g',[1.025,0.973,0.9347,0.8992,0.8691]],
['sh','b',[1.252,1.196,1.146,1.101,1.071]],
['n','k',[1.271,1.2205,1.1728,1.1282,1.097]],
['n','y',[1.2453,1.1876,1.1324,1.0899,1.0516]],
['sh','o',[1.2902,1.2276,1.178,1.127,1.0874]],
['sh','g',[1.3471,1.2735,1.2071,1.159,1.1111]],
['n','or',[1.397,1.3344,1.2746,1.225,1.185]],
['n','b',[1.4804,1.418,1.358,1.3132,1.2746]],
['n','g',[1.445,1.3743,1.3178,1.2651,1.2212]],
['n','o',[1.5151,1.4514,1.3839,1.3294,1.2859]],
['n','g',[1.5334,1.4652,1.4061,1.3577,1.3107]],
['ab','t',[1.60,1.5112,1.444,1.3938,1.346]],
['megaBig','c',[1.2177,1.1668,1.1218,1.0764,1.0491]],
['shBig','c',[1.2552,1.1986,1.1476,1.0998,1.0686]],
['cdm','m',[1.3945,1.3241,1.2672,1.2212,1.1827]],
['cd','c',[1.4733,1.4132,1.3531,1.3018,1.2594]]
];
var P3=[
['dt','y',[1.3885,1.3061,1.2389,1.19,1.143]],
['dt','g',[1.4617,1.3768,1.2976,1.2382,1.17]],
['thp','p',[1.485,1.44,1.362,1.325,1.2849]],
['th','r',[1.5431,1.4539,1.3549,1.3018,1.2569]],
['th','g',[1.60,1.5193,1.4546,1.3955,1.362]],
['th','y',[1.60,1.524,1.4646,1.4185,1.3655]],
['th','g',[1.67,1.585,1.4992,1.4185,1.325]],
['th','r',[1.3248,1.2619,1.1915,1.15,1.1118]],
['n','y',[1.0977,1.0477,1.0003,0.9641,0.9304]],
['mega','g',[1.0916,1.0162,0.963,0.9276,0.8836]],
['sh','b',[1.245,1.1922,1.1388,1.097,1.0615]],
['n','k',[1.2725,1.2205,1.1774,1.1317,1.1005]],
['n','y',[1.2488,1.1859,1.1306,1.0863,1.0474]],
['sh','o',[1.3153,1.2417,1.18,1.131,1.0846]],
['sh','g',[1.3602,1.2813,1.2283,1.1798,1.1324]],
['n','or',[1.418,1.3602,1.293,1.24,1.2]],
['n','b',[1.4776,1.415,1.3549,1.3124,1.28]],
['n','g',[1.4743,1.4072,1.3514,1.287,1.2435]],
['n','o',[1.5346,1.4592,1.385,1.3361,1.2965]],
['n','g',[1.5389,1.4698,1.4132,1.3591,1.3124]],
['ab','t',[1.65,1.565,1.4829,1.4337,1.3867]],
['megaBig','c',[1.2407,1.187,1.1423,1.0977,1.0693]],
['shBig','c',[1.287,1.2269,1.166,1.1164,1.0835]],
['cdm','m',[1.4158,1.3514,1.2849,1.2375,1.1986]],
['cd','c',[1.4992,1.4397,1.3754,1.3213,1.2764]]
];
function f(n){return n.toFixed(1);}
function draw(id,data){
 var s='';
 data.forEach(function(e){
  var S=ST[e[0]],col=C[e[1]],dc=D[e[1]]||col;
  var pts=e[2].map(function(v,i){return [X(30+5*i),Y(v)];});
  var d='';
  for(var i=0;i<pts.length;i++){
   var p=pts[i];
   if(i===0){ if(p[1]<=B) d+='M'+f(p[0])+' '+f(p[1]); continue; }
   var q=pts[i-1];
   if(q[1]>B && p[1]>B) continue;
   if(q[1]>B){
    var t=(B-q[1])/(p[1]-q[1]);
    d+='M'+f(q[0]+t*(p[0]-q[0]))+' '+B+'L'+f(p[0])+' '+f(p[1]);
   } else if(p[1]>B){
    var t2=(B-q[1])/(p[1]-q[1]);
    d+='L'+f(q[0]+t2*(p[0]-q[0]))+' '+B;
   } else {
    d+='L'+f(p[0])+' '+f(p[1]);
   }
  }
  if(d) s+='<path d="'+d+'" fill="none" stroke="'+col+'" stroke-width="'+S.w+'"'+(S.d?' stroke-dasharray="'+S.d+'"':'')+' stroke-linecap="'+(S.cap||'butt')+'" stroke-linejoin="round"/>';
  pts.forEach(function(p){ if(p[1]<=B+0.5) s+='<circle cx="'+f(p[0])+'" cy="'+f(p[1])+'" r="'+S.r+'" fill="'+dc+'"/>'; });
 });
 document.getElementById(id).innerHTML=s;
}
draw('s1',P1);draw('s2',P2);draw('s3',P3);
})();
</script>
</body></html>
